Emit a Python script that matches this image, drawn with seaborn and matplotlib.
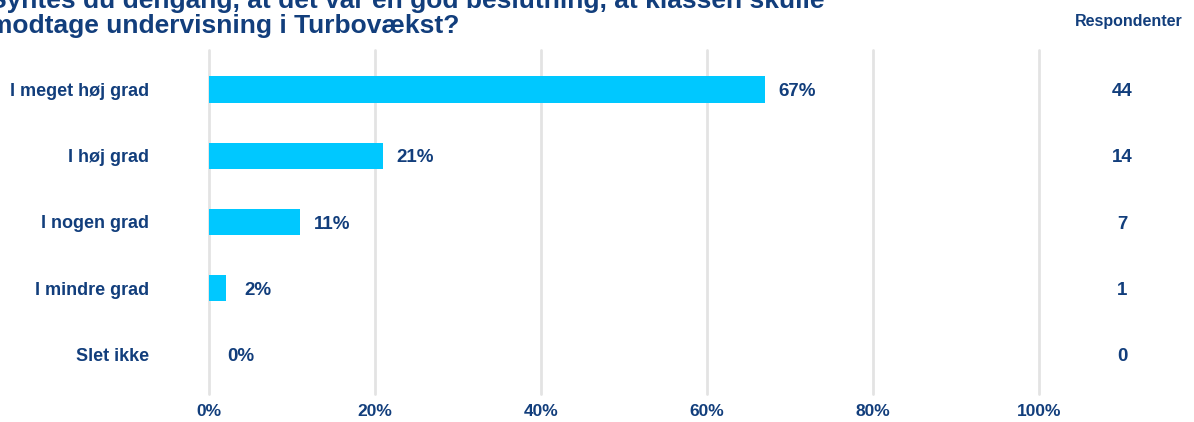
import matplotlib
matplotlib.use("Agg")
import matplotlib.pyplot as plt
import matplotlib.transforms as mtransforms
import seaborn as sns
import pandas as pd

# Survey answers
categories = ["I meget høj grad", "I høj grad", "I nogen grad", "I mindre grad", "Slet ikke"]
percent = [67, 21, 11, 2, 0]
respondents = [44, 14, 7, 1, 0]
x_ticks = [0, 20, 40, 60, 80, 100]
x_tick_labels = ["0%", "20%", "40%", "60%", "80%", "100%"]
title_lines = [
    "Syntes du dengang, at det var en god beslutning, at klassen skulle",
    "modtage undervisning i Turbovækst?",
]
count_header = "Respondenter"

NAVY = "#123E7C"
BAR = "#00C8FF"
GRID = "#E3E3E3"

sns.set_theme(style="white")
plt.rcParams["font.family"] = ["Liberation Sans", "DejaVu Sans"]
plt.rcParams["font.weight"] = "bold"

W, H = 1194, 422
fig = plt.figure(figsize=(W / 100, H / 100), dpi=100)
ax = fig.add_axes([209 / W, 28 / H, 830 / W, 344 / H])

df = pd.DataFrame({"svar": categories, "pct": percent})
sns.barplot(data=df, x="pct", y="svar", color=BAR, saturation=1, width=0.4,
            linewidth=0, ax=ax)

ax.set_xlim(0, 100)
ax.set_ylim(4.6, -0.6)
ax.set_xticks(x_ticks)
ax.set_xticklabels(x_tick_labels)
ax.set_xlabel("")
ax.set_ylabel("")
for s in ax.spines.values():
    s.set_visible(False)

ax.xaxis.grid(True, color=GRID, linewidth=2)
ax.set_axisbelow(True)
for gl in ax.get_xgridlines():
    gl.set_clip_on(False)

ax.tick_params(axis="x", length=0, pad=7, labelsize=12.5, labelcolor=NAVY)
ax.tick_params(axis="y", length=0, pad=43, labelsize=13, labelcolor=NAVY)
for lbl in ax.get_xticklabels() + ax.get_yticklabels():
    lbl.set_fontweight("bold")

# Percentage labels next to each bar
for i, v in enumerate(percent):
    ax.annotate(f"{v}%", xy=(v, i), xytext=(23, -1.5), textcoords="offset points",
                ha="center", va="center", fontsize=13.5, fontweight="bold", color=NAVY)

# Respondent counts column on the right
blend = mtransforms.blended_transform_factory(fig.transFigure, ax.transData)
for i, n in enumerate(respondents):
    ax.annotate(str(n), xy=(1122 / W, i), xycoords=blend, xytext=(0, -1.5),
                textcoords="offset points", ha="center", va="center",
                fontsize=13.5, fontweight="bold", color=NAVY, annotation_clip=False)
fig.text(1129 / W, 1 - 26 / H, count_header, ha="center", va="baseline",
         fontsize=11.5, fontweight="bold", color=NAVY)

# Question title
for k, line in enumerate(title_lines):
    fig.text(-11 / W, 1 - (8 + 25 * k) / H, line, ha="left", va="baseline",
             fontsize=19, fontweight="bold", color=NAVY)

fig.savefig("out.png", dpi=100)
